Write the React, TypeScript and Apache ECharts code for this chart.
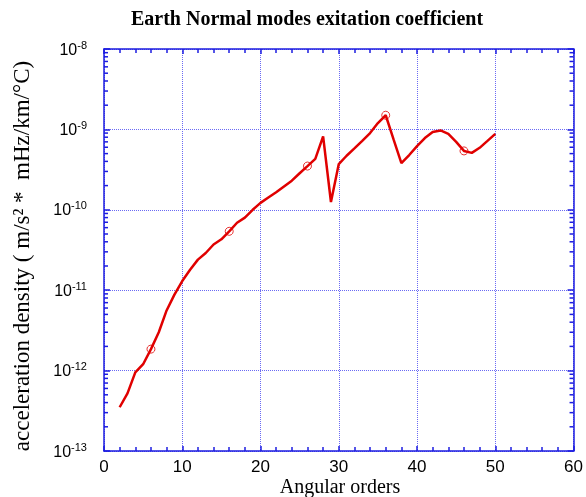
import React, { useEffect, useRef } from "react";
import * as echarts from "echarts";

const angularOrders = [
  2, 3, 4, 5, 6, 7, 8, 9, 10, 11, 12, 13, 14, 15, 16, 17, 18, 19, 20, 21, 22, 23, 24, 25, 26,
  27, 28, 29, 30, 31, 32, 33, 34, 35, 36, 37, 38, 39, 40, 41, 42, 43, 44, 45, 46, 47, 48, 49, 50,
];
const density = [
  3.5e-13, 5.2e-13, 9.5e-13, 1.2e-12, 1.85e-12, 3.0e-12, 5.6e-12, 8.8e-12, 1.3e-11, 1.8e-11,
  2.4e-11, 2.9e-11, 3.7e-11, 4.3e-11, 5.4e-11, 6.9e-11, 8.0e-11, 1.0e-10, 1.22e-10, 1.42e-10,
  1.65e-10, 1.95e-10, 2.3e-10, 2.85e-10, 3.5e-10, 4.3e-10, 8.2e-10, 1.25e-10, 3.7e-10, 4.7e-10,
  5.8e-10, 7.2e-10, 9.0e-10, 1.2e-9, 1.5e-9, 7.5e-10, 3.8e-10, 4.8e-10, 6.2e-10, 7.8e-10,
  9.3e-10, 9.7e-10, 8.8e-10, 7.0e-10, 5.4e-10, 5.1e-10, 5.9e-10, 7.2e-10, 8.8e-10,
];
const markerOrders = [6, 16, 26, 36, 46];
const yDecades = [-13, -12, -11, -10, -9];
const yMinorMultipliers = [2, 3, 4, 5, 6, 7, 8, 9];

const AXIS = "#1c1ce0";
const GRID = "#6a6af4";
const RED = "#e00000";

export default function App() {
  const ref = useRef<HTMLDivElement>(null);
  useEffect(() => {
    if (!ref.current) return;
    const chart = echarts.init(ref.current, undefined, { renderer: "svg" });
    const lineData = angularOrders.map((x, i) => [x, density[i]]);
    const markerData = markerOrders.map((x) => [x, density[angularOrders.indexOf(x)]]);
    const minorTicks: number[][] = [];
    yDecades.forEach((e) =>
      yMinorMultipliers.forEach((m) => minorTicks.push([30, m * Math.pow(10, e)]))
    );
    const xAxisBase = {
      type: "value",
      min: 0,
      max: 60,
      interval: 10,
      axisLine: { show: true, onZero: false, lineStyle: { color: AXIS, width: 1.5 } },
      axisTick: { show: true, inside: true, length: 5, lineStyle: { color: AXIS, width: 1.5 } },
      minorTick: { show: true, splitNumber: 5, length: 4, lineStyle: { color: AXIS, width: 1.5 } },
    };
    const yAxisBase = {
      type: "log",
      logBase: 10,
      min: 1e-13,
      max: 1e-8,
      axisLine: { show: true, onZero: false, lineStyle: { color: AXIS, width: 1.5 } },
      axisTick: { show: true, inside: true, length: 6, lineStyle: { color: AXIS, width: 1.5 } },
      minorTick: { show: false },
    };
    chart.setOption({
      animation: false,
      grid: { left: 104, right: 12, top: 49, bottom: 46 },
      xAxis: [
        {
          ...xAxisBase,
          position: "bottom",
          axisLabel: {
            margin: 8,
            color: "#000",
            fontFamily: "Liberation Sans",
            fontSize: 17,
            lineHeight: 15,
          },
          splitLine: { show: true, lineStyle: { color: GRID, type: [1, 1], width: 1 } },
        },
        {
          ...xAxisBase,
          position: "top",
          axisLabel: { show: false },
          splitLine: { show: false },
        },
      ],
      yAxis: [
        {
          ...yAxisBase,
          position: "left",
          axisLabel: {
            margin: 17,
            formatter: (v: number) => `{b|10}{s|${Math.round(Math.log10(v))}}`,
            rich: {
              b: { fontFamily: "Liberation Sans", fontSize: 16, color: "#000" },
              s: {
                fontFamily: "Liberation Sans",
                fontSize: 11,
                color: "#000",
                padding: [0, 0, 9, 0],
              },
            },
          },
          splitLine: { show: true, lineStyle: { color: GRID, type: [1, 1], width: 1 } },
        },
        {
          ...yAxisBase,
          position: "right",
          axisLabel: { show: false },
          splitLine: { show: false },
        },
      ],
      graphic: [
        {
          type: "text",
          x: 307,
          y: 18,
          style: {
            text: "Earth Normal modes exitation coefficient",
            font: "bold 20px 'Liberation Serif'",
            fill: "#000",
            textAlign: "center",
            textVerticalAlign: "middle",
          },
        },
        {
          type: "text",
          x: 340,
          y: 496,
          style: {
            text: "Angular orders",
            font: "20px 'Liberation Serif'",
            fill: "#000",
            textAlign: "center",
            textVerticalAlign: "bottom",
          },
        },
        {
          type: "text",
          x: 21,
          y: 256,
          rotation: Math.PI / 2,
          style: {
            text: "acceleration density ( m/s² *  mHz/km/°C)",
            font: "23px 'Liberation Serif'",
            fill: "#000",
            textAlign: "center",
            textVerticalAlign: "middle",
          },
        },
      ],
      series: [
        {
          type: "custom",
          xAxisIndex: 0,
          yAxisIndex: 0,
          silent: true,
          clip: false,
          encode: { x: 0, y: 1 },
          data: minorTicks,
          z: 5,
          renderItem: (params: any, api: any) => {
            const v = api.value(1);
            const pL = api.coord([0, v]);
            const pR = api.coord([60, v]);
            const style = { stroke: AXIS, lineWidth: 1.5, fill: null };
            return {
              type: "group",
              children: [
                { type: "line", shape: { x1: pL[0], y1: pL[1], x2: pL[0] + 4, y2: pL[1] }, style },
                { type: "line", shape: { x1: pR[0], y1: pR[1], x2: pR[0] - 4, y2: pR[1] }, style },
              ],
            };
          },
        },
        {
          type: "line",
          data: lineData,
          showSymbol: false,
          symbol: "none",
          lineStyle: { color: RED, width: 2.5 },
          z: 3,
        },
        {
          type: "scatter",
          data: markerData,
          symbol: "circle",
          symbolSize: 8,
          itemStyle: { color: "rgba(0,0,0,0)", borderColor: RED, borderWidth: 1 },
          z: 4,
        },
      ],
    });
    return () => chart.dispose();
  }, []);
  return (
    <div
      ref={ref}
      style={{ position: "fixed", left: 0, top: 0, width: 586, height: 497 }}
    />
  );
}
